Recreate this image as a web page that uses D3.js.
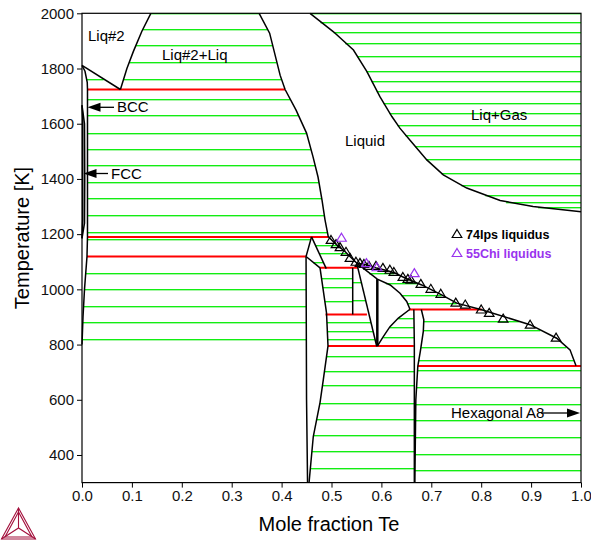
<!DOCTYPE html>
<html><head><meta charset="utf-8">
<script src="https://cdn.jsdelivr.net/npm/d3@7"></script>
<style>body{margin:0;background:#fff;} svg{display:block;font-family:"Liberation Sans",Arial,sans-serif;}</style>
</head><body><svg id="c" width="591" height="540"></svg>
<script>
// ---- axis ticks ----
const xTicks = [0,0.1,0.2,0.3,0.4,0.5,0.6,0.7,0.8,0.9,1.0];
const yTicks = [400,600,800,1000,1200,1400,1600,1800,2000];

// ---- phase boundaries [x, T] ----
const bccBound = [[0,1811],[0.006,1790],[0.0105,1750],[0.011,1724],[0.011,1190],[0.010,1119],[0.005,1000],[0.002,900],[0,800]];
const gammaLoopA = [[0,1667],[0.0015,1620],[0.0015,1250],[0,1185]];
const gammaLoopB = [[0,1667],[0.005,1600],[0.0055,1400],[0.005,1240],[0,1185]];
const liq2Low = [[0,1811],[0.077,1724]];
const liq2High = [[0.077,1724],[0.09,1800],[0.103,1862],[0.12,1935],[0.138,2000]];
const liqMisc = [[0.355,2000],[0.376,1928],[0.397,1776],[0.407,1724]];
const liquidus = [[0.407,1724],[0.429,1649],[0.450,1566],[0.463,1480],[0.473,1407],[0.481,1323],[0.487,1252],[0.4935,1191],
  [0.5104,1161],[0.527,1137],[0.5505,1095],[0.5705,1089],[0.5906,1077],[0.6106,1068],[0.6273,1059],[0.6473,1041],
  [0.6808,1016],[0.7008,998],[0.7208,980],[0.7509,950],[0.801,926],[0.8978,872],[0.9513,823],[0.978,781],[0.99,723]];
const gasBound = [[0.457,2000],[0.504,1933],[0.544,1867],[0.571,1789],[0.597,1698],[0.621,1626],[0.637,1584],[0.657,1541],
  [0.691,1469],[0.724,1415],[0.771,1367],[0.838,1322],[0.904,1300],[1.0,1281]];
const betaHighLeft = [[0.46,1190],[0.449,1119]];
const betaHighRight = [[0.46,1190],[0.4895,1075]];
const betaLowTop = [[0.449,1119],[0.477,1078]];
const betaLeft = [[0.449,1119],[0.450,600],[0.452,300]];
const betaRight = [[0.477,1078],[0.490,915],[0.493,795],[0.4836,673],[0.477,590],[0.4635,467],[0.455,300]];
const gammaPh = [[0.5425,1078],[0.5425,909]];
const deltaLeft = [[0.5505,1095],[0.5906,794]];
const deltaTop = [[0.5505,1095],[0.5918,1037],[0.6176,1016],[0.6373,986],[0.6507,956],[0.6573,928]];
const deltaMid = [[0.5918,1037],[0.5918,794]];
const deltaLow = [[0.5918,794],[0.6038,829],[0.6172,865],[0.634,896],[0.6573,928]];
const feTe2Left = [[0.665,927],[0.666,800],[0.666,300]];
const feTe2Right = [[0.680,927],[0.685,890],[0.684,848],[0.678,775],[0.673,722],[0.669,600],[0.667,300]];
const teSide = [[1,2000],[1,300]];

// ---- invariant (three-phase) lines: [T, xFrom, xTo] ----
const invT = [1724,1190,1119,1078,909,927,795,722];
const invFrom = [0.011,0.011,0.010,0.477,0.488,0.655,0.493,0.673];
const invTo = [0.407,0.4935,0.449,0.553,0.571,0.801,0.665,1.0];

// ---- tie-line temperatures per two-phase field ----
const tiesBccLiq2 = [1762];
const tiesLiq2Liq = [2000,1942,1885,1825,1762];
const tiesBccLiq = [1690,1632,1568,1509,1452,1390,1330,1270,1209];
const tiesBccBetaHigh = [1182];
const tiesBccBeta = [1061,1001,940,880,820,759,699,639,579,519,460,400,341];
const tiesLiqGas = [2000,1970,1933,1894,1845,1792,1756,1720,1676,1640,1596,1560,1518,1472,1421,1378,1342,1318,1298];
const tiesBetaLiq = [1160,1131];
const tiesBetaSliver = [1098];
const tiesBetaGamma = [1040,1010,958];
const tiesGammaDelta = [1028,962];
const tiesBetaDelta = [880,850,820];
const tiesDeltaLiq = [1060,1023,980,950];
const tiesDeltaFeTe2 = [895,865,829];
const tiesBetaFeTe2 = [760,705,653,590,531,473,413,353];
const tiesFeTe2Liq = [884,853,793,745];
const tiesFeTe2Te = [709,646,584,525,465,405,345];

// ---- experimental liquidus points ----
const ipsX = [0.499,0.509,0.517,0.529,0.537,0.549,0.557,0.565,0.575,0.589,0.603,0.617,0.625,0.643,0.653,0.659,0.679,0.699,0.719,0.749,0.768,0.800,0.816,0.844,0.898,0.950];
const ipsT = [1179,1164,1153,1136,1114,1100,1096,1092,1085,1085,1078,1071,1063,1045,1038,1035,1020,1002,984,952,945,927,915,894,872,825];
const chiX = [0.520,0.570,0.591,0.666];
const chiT = [1187,1095,1080,1059];

const svg = d3.select("#c");
const x = d3.scaleLinear().domain([0,1]).range([82,581]);
const y = d3.scaleLinear().domain([300,2000]).range([482.6,13.3]);

function xAt(poly, T){
  for(let i=0;i<poly.length-1;i++){
    const a=poly[i], b=poly[i+1];
    const lo=Math.min(a[1],b[1]), hi=Math.max(a[1],b[1]);
    if(T>=lo && T<=hi){
      if(a[1]===b[1]) return a[0];
      return a[0]+(b[0]-a[0])*(T-a[1])/(b[1]-a[1]);
    }
  }
  return null;
}
const gTie = svg.append("g");
function ties(list, left, right){
  list.forEach(T=>{
    const x1=xAt(left,T), x2=xAt(right,T);
    if(x1===null||x2===null) return;
    const yy=Math.round(y(T));
    gTie.append("line").attr("x1",x(x1)).attr("x2",x(x2)).attr("y1",yy+0.5).attr("y2",yy+0.5)
      .attr("stroke","#12ee12").attr("stroke-width",1);
    gTie.append("line").attr("x1",x(x1)).attr("x2",x(x2)).attr("y1",yy+1.5).attr("y2",yy+1.5)
      .attr("stroke","#a8f5a8").attr("stroke-width",1);
  });
}
ties(tiesBccLiq2, bccBound, liq2Low);
ties(tiesLiq2Liq, liq2High, liqMisc);
ties(tiesBccLiq, bccBound, liquidus);
ties(tiesBccBetaHigh, bccBound, betaHighLeft);
ties(tiesBccBeta, bccBound, betaLeft);
ties(tiesLiqGas, gasBound, teSide);
ties(tiesBetaLiq, betaHighRight, liquidus);
ties(tiesBetaSliver, betaLowTop, betaHighRight);
ties(tiesBetaGamma, betaRight, gammaPh);
ties(tiesGammaDelta, gammaPh, deltaLeft);
ties(tiesBetaDelta, betaRight, deltaLeft);
ties(tiesDeltaLiq, deltaTop, liquidus);
ties(tiesDeltaFeTe2, deltaLow, feTe2Left);
ties(tiesBetaFeTe2, betaRight, feTe2Left);
ties(tiesFeTe2Liq, feTe2Right, liquidus);
ties(tiesFeTe2Te, feTe2Right, teSide);

// red invariant lines
invT.forEach((T,i)=>{
  svg.append("line").attr("x1",x(invFrom[i])).attr("x2",x(invTo[i])).attr("y1",y(T)).attr("y2",y(T))
    .attr("stroke","#ff0000").attr("stroke-width",2);
});

// black boundaries
const line = d3.line().x(d=>x(d[0])).y(d=>y(d[1]));
const bl = [bccBound,gammaLoopA,gammaLoopB,liq2Low,liq2High,liqMisc,liquidus,gasBound,betaHighLeft,betaHighRight,betaLowTop,betaLeft,betaRight,
  gammaPh,deltaLeft,deltaTop,deltaLow,feTe2Left,feTe2Right];
bl.forEach(p=>svg.append("path").attr("d",line(p)).attr("fill","none").attr("stroke","#000").attr("stroke-width",1.5));
svg.append("path").attr("d",line(deltaMid)).attr("fill","none").attr("stroke","#000").attr("stroke-width",2.5);

// frame + axes
svg.append("rect").attr("x",82).attr("y",13.3).attr("width",499).attr("height",482.6-13.3)
  .attr("fill","none").attr("stroke","#000").attr("stroke-width",1.2);
const ax = svg.append("g").attr("transform","translate(0,482.6)")
  .call(d3.axisBottom(x).tickValues(xTicks).tickFormat(d3.format(".1f")).tickSize(5).tickPadding(3));
const ay = svg.append("g").attr("transform","translate(82,0)")
  .call(d3.axisLeft(y).tickValues(yTicks).tickFormat(d3.format("d")).tickSize(5).tickPadding(3));
[ax,ay].forEach(a=>{a.select(".domain").remove();a.selectAll("text").attr("font-size",15).attr("fill","#111")
  .attr("font-family","Liberation Sans, Arial, sans-serif");a.selectAll("line").attr("stroke","#000");});

svg.append("text").attr("x",329).attr("y",531).attr("text-anchor","middle").attr("font-size",20).text("Mole fraction Te");
svg.append("text").attr("transform","translate(29,238) rotate(-90)").attr("text-anchor","middle").attr("font-size",20).text("Temperature [K]");

// region labels
const labels = [["Liq#2",88,41],["Liq#2+Liq",162,60],["Liquid",345,146],["Liq+Gas",471,120],["BCC",117,112],["FCC",111,179],["Hexagonal A8",451,418]];
labels.forEach(l=>svg.append("text").attr("x",l[1]).attr("y",l[2]).attr("font-size",15).text(l[0]));

// arrows
function arrow(x1,x2,yy){
  svg.append("line").attr("x1",x1).attr("x2",x2+(x2<x1?10:-10)).attr("y1",yy).attr("y2",yy).attr("stroke","#000").attr("stroke-width",1.3);
  const d = x2<x1 ? 1 : -1;
  svg.append("path").attr("d",`M${x2},${yy}L${x2+d*13},${yy-4.5}L${x2+d*13},${yy+4.5}Z`).attr("fill","#000");
}
arrow(114,87.5,107.3);
arrow(108,83.5,173.5);
arrow(541,580,413);

// triangles
function tri(cx,cy,col){
  svg.append("path").attr("d",`M${cx},${cy-4.5}L${cx+4.8},${cy+3.5}L${cx-4.8},${cy+3.5}Z`).attr("fill","none").attr("stroke",col).attr("stroke-width",1.2);
}
ipsX.forEach((v,i)=>tri(x(v),y(ipsT[i]),"#000"));
chiX.forEach((v,i)=>tri(x(v),y(chiT[i]),"#9933ee"));

// legend
tri(457,234,"#000");
svg.append("text").attr("x",466).attr("y",238.5).attr("font-size",12.5).attr("font-weight","bold").text("74Ips liquidus");
tri(457,253,"#9933ee");
svg.append("text").attr("x",466).attr("y",257.5).attr("font-size",12.5).attr("font-weight","bold").attr("fill","#9933ee").text("55Chi liquidus");

// logo
const lg = svg.append("g").attr("fill","none").attr("stroke","#a3103c").attr("stroke-width",1.1);
lg.append("path").attr("d","M18.5,508L1.5,539L35.5,539Z");
lg.append("path").attr("d","M18.5,512L5,537L32,537Z");
lg.append("path").attr("d","M18.5,508L18.5,528M1.5,539L18.5,528L35.5,539");
</script></body></html>
